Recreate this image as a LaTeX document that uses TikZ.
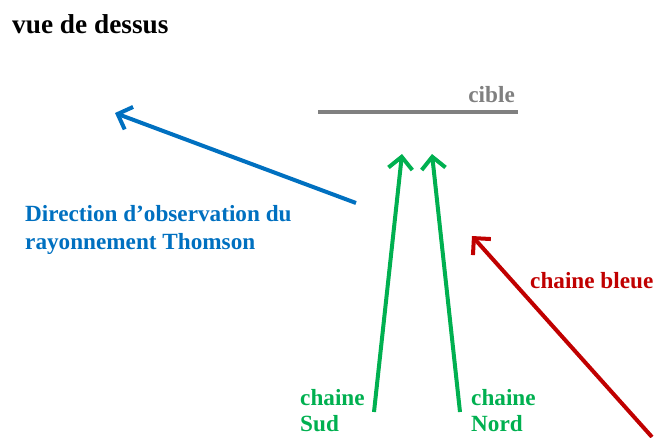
\documentclass[tikz,border=0pt]{standalone}
\usepackage{fontspec}
\setmainfont{Liberation Serif}
\usetikzlibrary{arrows.meta}
\definecolor{cblue}{RGB}{0,112,192}
\definecolor{cgreen}{RGB}{0,176,80}
\definecolor{cred}{RGB}{192,0,0}
\definecolor{cgray}{RGB}{128,128,128}
\tikzset{
  lbl/.style={inner sep=0pt, font=\bfseries\fontsize{23.2}{28}\selectfont, anchor=base west},
  arr/.style={line width=4pt, -{Straight Barb[length=12pt,width=24pt,line width=4pt]}}
}
\begin{document}
\begin{tikzpicture}[x=1pt,y=-1pt]
\useasboundingbox (0,0) rectangle (654,437);
\node[lbl, font=\bfseries\fontsize{27.3}{30}\selectfont] (title) at (12,33) {vue de dessus};
% cible
\coordinate (c1) at (318,112);
\coordinate (c2) at (518,112);
\draw[cgray, line width=4pt] (c1) -- (c2);
\node[lbl, text=cgray, anchor=base east] (cible) at (515,102) {cible};
% blue
\coordinate (b0) at (356,203);
\coordinate (b1) at (115,113);
\draw[arr, cblue] (b0) -- (b1);
\node[lbl, text=cblue] (dir1) at (25,221) {Direction d'observation du};
\node[lbl, text=cblue] (dir2) at (25,249) {rayonnement Thomson};
% green
\coordinate (s0) at (374,412);
\coordinate (s1) at (402,154);
\coordinate (n0) at (460,412);
\coordinate (n1) at (432,154);
\draw[arr, cgreen] (s0) -- (s1);
\draw[arr, cgreen] (n0) -- (n1);
\node[lbl, text=cgreen] (sud1) at (300,405) {chaine};
\node[lbl, text=cgreen, text depth=0pt] (sud2) at (300,431) {Sud};
\node[lbl, text=cgreen] (nord1) at (471,405) {chaine};
\node[lbl, text=cgreen, text depth=0pt] (nord2) at (471,431) {Nord};
% red
\coordinate (r0) at (652,437);
\coordinate (r1) at (472,236);
\draw[arr, cred] (r0) -- (r1);
\node[lbl, text=cred] (bleue) at (530,288) {chaine bleue};
\end{tikzpicture}
\end{document}
